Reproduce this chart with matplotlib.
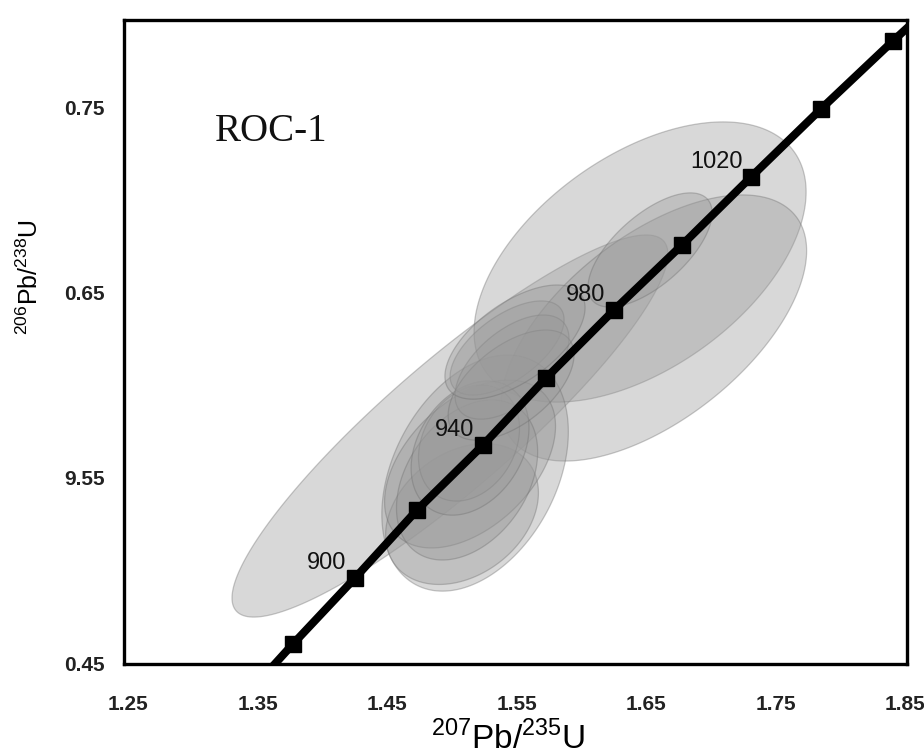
import numpy as np
import matplotlib
matplotlib.use("Agg")
from matplotlib import pyplot as plt
from matplotlib.patches import Polygon

plt.rcParams['font.family'] = ['Liberation Sans', 'DejaVu Sans']
plt.rcParams['mathtext.fontset'] = 'custom'
plt.rcParams['mathtext.rm'] = 'Liberation Sans'

# concordia curve (ages in Ma)
ages = [860, 880, 900, 920, 940, 960, 980, 1000, 1020, 1040, 1060, 1080]
pb207_u235 = [1.331, 1.3774, 1.4253, 1.4732, 1.5241, 1.5728, 1.6253, 1.6778, 1.7311, 1.7851, 1.8407, 1.898]
pb206_u238 = [0.4246, 0.4603, 0.4959, 0.5326, 0.5676, 0.6038, 0.6405, 0.6756, 0.7123, 0.7490, 0.7857, 0.8224]
marker_ages = [880, 900, 920, 940, 960, 980, 1000, 1020, 1040, 1060]
label_ages = [900, 940, 980, 1020]

# error ellipses: centre x, centre y, x error, y error, correlation
ell_x = [1.4986, 1.6454, 1.6560, 1.6531, 1.5180, 1.5079, 1.5141, 1.5118,
         1.5133, 1.5141, 1.5427, 1.5465, 1.5458, 1.5488]
ell_y = [0.5779, 0.6664, 0.6308, 0.6729, 0.5525, 0.5304, 0.5574, 0.5488,
         0.5687, 0.5660, 0.6200, 0.6097, 0.6000, 0.6232]
ell_sx = [0.1683, 0.1282, 0.1180, 0.0479, 0.0720, 0.0590, 0.0660, 0.0545,
          0.0390, 0.0455, 0.0440, 0.0440, 0.0486, 0.0541]
ell_sy = [0.1031, 0.0756, 0.0718, 0.0308, 0.0637, 0.0380, 0.0453, 0.0432,
          0.0313, 0.0362, 0.0254, 0.0281, 0.0297, 0.0308]
ell_rho = [0.90, 0.50, 0.58, 0.65, 0.35, 0.30, 0.45, 0.35,
           0.25, 0.30, 0.60, 0.55, 0.55, 0.60]

xticks = [1.25, 1.35, 1.45, 1.55, 1.65, 1.75, 1.85]
yticks = [0.45, 0.55, 0.65, 0.75]
ytick_labels = ['0.45', '9.55', '0.65', '0.75']

fig = plt.figure(figsize=(9.24, 7.54), dpi=100)
ax = fig.add_axes([0.1342, 0.1194, 0.8474, 0.8541])

t = np.linspace(0, 2 * np.pi, 240)
for cx, cy, sx, sy, r in zip(ell_x, ell_y, ell_sx, ell_sy, ell_rho):
    ex = cx + sx * np.cos(t)
    ey = cy + sy * (r * np.cos(t) + np.sqrt(1 - r * r) * np.sin(t))
    ax.add_patch(Polygon(np.column_stack([ex, ey]), closed=True,
                         facecolor='#9a9a9a', alpha=0.38, edgecolor='#6e6e6e',
                         linewidth=0.9, zorder=1))

ax.plot(pb207_u235, pb206_u238, color='black', lw=5.8, zorder=3,
        solid_capstyle='butt')
mx = [x for a, x in zip(ages, pb207_u235) if a in marker_ages]
my = [y for a, y in zip(ages, pb206_u238) if a in marker_ages]
ax.plot(mx, my, 's', color='black', ms=11, zorder=4)

for a, x, y in zip(ages, pb207_u235, pb206_u238):
    if a in label_ages:
        ax.annotate(str(a), (x, y), xytext=(-6, 11), textcoords='offset points',
                    ha='right', va='center', fontsize=17, color='#111111', zorder=5)

ax.text(1.317, 0.7366, 'ROC-1', family='Liberation Serif', fontsize=28,
        ha='left', va='center', color='#111111')

ax.set_xlim(1.2469, 1.8515)
ax.set_ylim(0.4495, 0.797)
ax.set_xticks(xticks)
ax.set_xticklabels(['%.2f' % v for v in xticks])
ax.set_yticks(yticks)
ax.set_yticklabels(ytick_labels)
ax.tick_params(length=0, labelsize=15)
ax.tick_params(axis='x', pad=22)
ax.tick_params(axis='y', pad=14)
for lab in ax.get_xticklabels() + ax.get_yticklabels():
    lab.set_fontweight('bold')
    lab.set_color('#222222')
for s in ax.spines.values():
    s.set_linewidth(2.4)

ax.set_xlabel(r'$^{207}$Pb/$^{235}$U', fontsize=24)
ax.xaxis.set_label_coords(0.49, -0.088)
ax.xaxis.label.set_va('top')
ax.set_ylabel(r'$^{206}$Pb/$^{238}$U', fontsize=18)
ax.yaxis.set_label_coords(-0.103, 0.601)

plt.savefig('out.png', dpi=100)
